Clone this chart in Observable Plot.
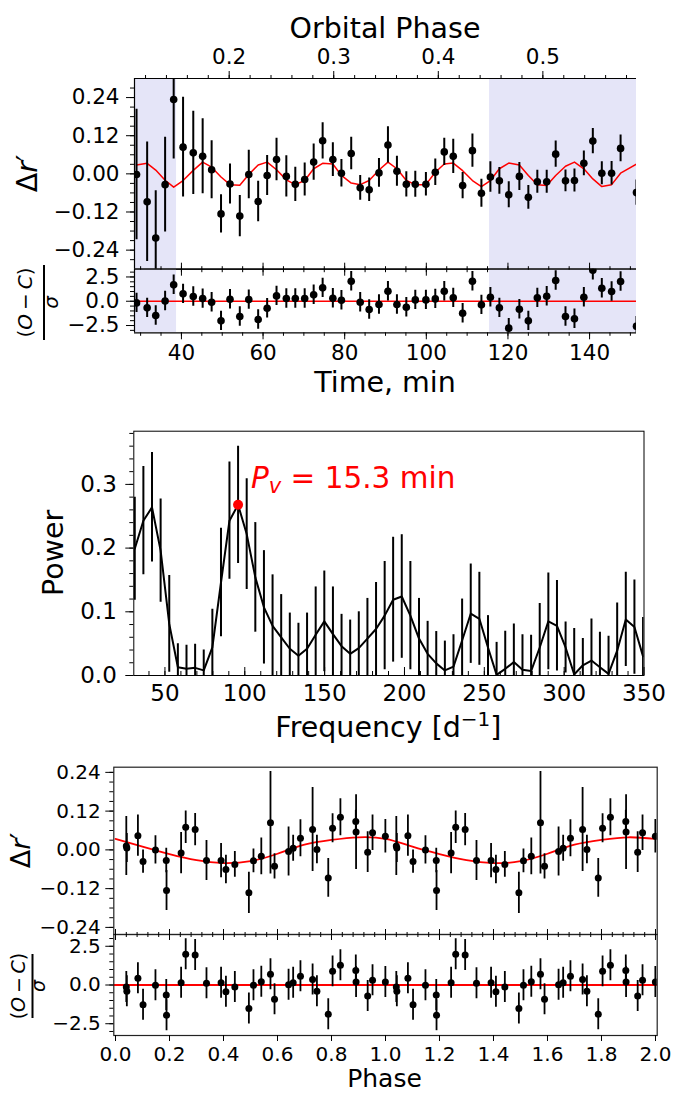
<!DOCTYPE html>
<html><head><meta charset="utf-8">
<script src="https://cdn.jsdelivr.net/npm/d3@7"></script>
<script src="https://cdn.jsdelivr.net/npm/@observablehq/plot@0.6"></script>
<style>
html,body{margin:0;padding:0;background:#fff;}
#chart{position:relative;width:673px;height:1093px;overflow:hidden;background:#fff;}
#chart svg{position:absolute;left:0;top:0;}
</style></head><body><div id="chart"></div>
<script>
// ---------- Light curve (time domain) ----------
const lcTime = [29.0, 31.6, 33.7, 36.0, 38.1, 40.4, 42.9, 45.2, 47.4, 49.7, 51.9, 54.3, 56.5, 58.8, 61.0, 63.3, 65.7, 67.9, 70.2, 72.4, 74.6, 77.1, 79.2, 81.6, 83.8, 86.0, 88.4, 90.6, 92.8, 95.1, 97.3, 99.9, 102.2, 104.4, 106.6, 108.9, 111.3, 113.5, 115.7, 117.9, 120.2, 122.8, 125.0, 127.2, 129.5, 131.7, 134.1, 136.3, 138.6, 140.8, 143.0, 145.4, 147.6, 151.5];
const lcMag = [-0.002, -0.088, -0.202, -0.034, 0.234, 0.084, 0.066, 0.055, 0.013, -0.126, -0.032, -0.133, -0.002, -0.087, -0.005, 0.045, -0.008, -0.033, -0.018, 0.037, 0.104, 0.045, 0.002, 0.064, -0.044, -0.050, 0.003, 0.091, 0.008, -0.033, -0.033, -0.033, 0.005, 0.069, 0.055, -0.037, 0.073, -0.061, -0.010, -0.022, -0.066, -0.008, -0.074, -0.025, -0.025, 0.062, -0.022, -0.021, 0.033, 0.103, 0.002, 0.002, 0.080, -0.059];
const lcErr = [0.205, 0.188, 0.149, 0.149, 0.187, 0.157, 0.131, 0.118, 0.091, 0.060, 0.063, 0.065, 0.076, 0.064, 0.063, 0.067, 0.065, 0.054, 0.052, 0.057, 0.057, 0.053, 0.043, 0.051, 0.039, 0.037, 0.045, 0.057, 0.047, 0.040, 0.041, 0.037, 0.042, 0.043, 0.054, 0.041, 0.052, 0.044, 0.048, 0.042, 0.041, 0.044, 0.037, 0.036, 0.036, 0.041, 0.034, 0.036, 0.039, 0.040, 0.036, 0.037, 0.042, 0.040];
const lcModel = [0.028, 0.033, 0.012, -0.020, -0.042, -0.021, 0.011, 0.037, 0.021, -0.010, -0.034, -0.036, -0.002, 0.028, 0.037, 0.013, -0.019, -0.034, -0.021, 0.016, 0.033, 0.031, -0.005, -0.029, -0.034, -0.021, 0.012, 0.037, 0.016, -0.021, -0.034, -0.034, 0.005, 0.031, 0.034, 0.010, -0.021, -0.040, -0.021, 0.016, 0.034, 0.028, -0.005, -0.034, -0.037, -0.005, 0.024, 0.037, 0.016, -0.016, -0.040, -0.034, 0.002, 0.031];
const lcResid = [-0.17, -0.68, -1.47, 0.03, 1.69, 0.76, 0.48, 0.27, -0.10, -2.02, 0.21, -1.57, 0.17, -1.88, -0.72, 0.55, 0.28, 0.28, 0.28, 0.66, 1.38, 0.30, 0.10, 2.06, -0.10, -0.85, -0.34, 1.03, -0.34, -0.62, 0.14, 0.14, 0.24, 1.03, 0.35, -1.23, 2.06, -0.37, 0.41, -0.68, -2.77, -0.82, -2.02, 0.35, 0.51, 2.13, -1.57, -1.81, 0.41, 3.20, 1.34, 1.00, 2.03, -2.57];
const shadeStart = [28.5, 115.5];
const shadeEnd = [38.8, 151.5];
// orbital phase axis (top): phase 0.2 at 51.7 min, one orbit = 256.2 min
const phaseRefPhase = 0.2, phaseRefTime = 51.7, orbitalPeriodMin = 256.2;
const phaseTicks = [0.2, 0.3, 0.4, 0.5];
const timeTicks = [40, 60, 80, 100, 120, 140];

// ---------- Periodogram ----------
const freq = [31.1, 36.5, 41.9, 47.3, 52.7, 58.1, 63.5, 68.9, 74.3, 79.7, 85.1, 90.4, 95.8, 101.2, 106.6, 112.0, 117.4, 122.8, 128.2, 133.6, 139.0, 144.4, 149.8, 155.2, 160.6, 166.0, 171.4, 176.8, 182.2, 187.6, 192.9, 198.3, 203.7, 209.1, 214.5, 219.9, 225.3, 230.7, 236.1, 241.5, 246.9, 252.3, 257.7, 263.1, 268.5, 273.9, 279.3, 284.7, 290.1, 295.5, 300.9, 306.3, 311.7, 317.1, 322.4, 327.8, 333.2, 338.6, 344.0, 349.4];
const power = [0.199, 0.243, 0.264, 0.196, 0.081, 0.013, 0.0105, 0.012, 0.008, 0.044, 0.146, 0.243, 0.268, 0.222, 0.154, 0.107, 0.078, 0.060, 0.042, 0.031, 0.042, 0.064, 0.085, 0.065, 0.046, 0.034, 0.043, 0.058, 0.073, 0.094, 0.119, 0.124, 0.094, 0.058, 0.034, 0.019, 0.008, 0.014, 0.055, 0.097, 0.089, 0.044, 0.001, 0.0105, 0.021, 0.009, 0.007, 0.044, 0.085, 0.078, 0.044, 0.0016, 0.016, 0.0235, 0.013, 0.0026, 0.039, 0.088, 0.076, 0.030];
const powerErr = [0.081, 0.085, 0.086, 0.081, 0.076, 0.037, 0.037, 0.037, 0.032, 0.060, 0.085, 0.092, 0.092, 0.087, 0.086, 0.089, 0.080, 0.067, 0.056, 0.051, 0.056, 0.075, 0.079, 0.074, 0.050, 0.053, 0.057, 0.063, 0.073, 0.085, 0.098, 0.097, 0.085, 0.063, 0.051, 0.050, 0.046, 0.050, 0.065, 0.078, 0.073, 0.050, 0.051, 0.059, 0.060, 0.055, 0.056, 0.069, 0.076, 0.071, 0.040, 0.072, 0.042, 0.065, 0.055, 0.059, 0.075, 0.074, 0.074, 0.061];
const peakFreq = [95.8], peakPower = [0.268];
const peakLabel = {freq: 104.2, power: 0.2936, prefix: "P", sub: "v", rest: " = 15.3 min"};
const freqTicks = [50, 100, 150, 200, 250, 300, 350];
const powerTicks = [0.0, 0.1, 0.2, 0.3];

// ---------- Phase-folded light curve (one cycle, drawn twice) ----------
const phPhase = [0.040, 0.042, 0.083, 0.102, 0.148, 0.188, 0.189, 0.243, 0.260, 0.295, 0.337, 0.391, 0.409, 0.442, 0.494, 0.511, 0.540, 0.574, 0.589, 0.641, 0.658, 0.685, 0.730, 0.746, 0.788, 0.804, 0.833, 0.890, 0.891, 0.934, 0.952, 0.9995];
const phMag = [0.012, 0.006, 0.044, -0.036, 0.000, -0.033, -0.126, -0.010, 0.070, 0.063, -0.033, -0.033, -0.061, -0.045, -0.133, -0.034, -0.020, 0.084, -0.051, -0.005, 0.005, 0.036, 0.063, 0.001, -0.087, 0.067, 0.101, 0.088, 0.055, -0.007, 0.053, 0.042];
const phErr = [0.091, 0.045, 0.064, 0.036, 0.044, 0.038, 0.062, 0.064, 0.050, 0.050, 0.062, 0.053, 0.044, 0.040, 0.064, 0.037, 0.057, 0.159, 0.039, 0.076, 0.040, 0.057, 0.130, 0.044, 0.060, 0.045, 0.057, 0.035, 0.116, 0.063, 0.055, 0.052];
const phResid = [-0.13, -0.41, 0.43, -1.27, -0.02, -0.64, -1.95, 0.15, 1.98, 1.93, 0.11, 0.15, -0.43, -0.13, -1.52, -0.02, 0.21, 0.69, -0.92, 0.02, 0.15, 0.56, 0.36, -0.41, -1.89, 0.88, 1.27, 0.94, 0.19, -0.71, 0.30, 0.19];
const modelPhase = [0.0, 0.1, 0.2, 0.3, 0.4, 0.5, 0.6, 0.7, 0.8, 0.9, 1.0];
const modelMag = [0.034, 0.010, -0.013, -0.032, -0.041, -0.035, -0.012, 0.016, 0.031, 0.039, 0.034];
const magTicks = [-0.24, -0.12, 0.0, 0.12, 0.24];
const residTicks = [-2.5, 0.0, 2.5];
const phaseAxisTicks = [0.0, 0.2, 0.4, 0.6, 0.8, 1.0, 1.2, 1.4, 1.6, 1.8, 2.0];

// ---------- layout ----------
const W = 673, H = 1093;
const FONT = "DejaVu Sans";
const shadeColor = "#e5e5f8";
const G = {
  p1: {left: 134, right: 636, top: 78, bottom: 268.7, x: [28.5, 151.5], y: [-0.3, 0.3]},
  r1: {top: 268.7, bottom: 332.3, y: [-3.25, 3.3]},
  pg: {left: 133.3, right: 643.5, top: 430.7, bottom: 675, x: [30.5, 350], y: [0, 0.3835]},
  p4: {left: 113.3, right: 656.7, top: 766.7, bottom: 934, x: [-0.0063, 2.0063], y: [-0.262, 0.256]},
  r5: {top: 934, bottom: 1035, y: [-3.26, 3.26]}
};
const minus = s => s.replace("-", "\u2212");
const fmt2 = d => minus(d.toFixed(2));
const fmt1 = d => minus(d.toFixed(1));
const blank = () => "";
const toTime = p => phaseRefTime + (p - phaseRefPhase) * orbitalPeriodMin;
const toPhase = t => (t - phaseRefTime) / orbitalPeriodMin + phaseRefPhase;
const rng = (a, b, s) => d3.range(Math.round((b - a) / s) + 1).map(i => +(a + i * s).toFixed(6));

const lc = lcTime.map((t, i) => ({t, v: lcMag[i], e: lcErr[i], m: lcModel[i], r: lcResid[i]}));
const shade = shadeStart.map((s, i) => ({start: s, end: shadeEnd[i]}));
const pg = freq.map((f, i) => ({f, p: power[i], e: powerErr[i]}));
const ph = [];
for (const k of [0, 1]) phPhase.forEach((p, i) => ph.push({p: p + k, v: phMag[i], e: phErr[i], r: phResid[i]}));
const model = [];
for (const k of [0, 1]) modelPhase.forEach((p, i) => { if (!(k === 1 && i === 0)) model.push({p: p + k, v: modelMag[i]}); });

function panel(g, x, y, fontSize, marks) {
  const svg = Plot.plot({
    width: W, height: H,
    marginTop: g.top, marginBottom: H - g.bottom, marginLeft: g.left, marginRight: W - g.right,
    x: {domain: x}, y: {domain: y},
    style: {background: "transparent", overflow: "visible", fontFamily: FONT, fontSize: fontSize + "px", color: "black"},
    marks
  });
  document.getElementById("chart").appendChild(svg);
  return svg;
}
const spine = (c, dir) => dir === "x" ? Plot.ruleX([c], {stroke: "black", strokeWidth: 1.2}) : Plot.ruleY([c], {stroke: "black", strokeWidth: 1.2});

// ---- panel 1: light curve ----
panel(G.p1, G.p1.x, G.p1.y, 21.5, [
  Plot.rect(shade, {x1: "start", x2: "end", y1: () => G.p1.y[0], y2: () => G.p1.y[1], fill: shadeColor, clip: true}),
  Plot.line(lc, {x: "t", y: "m", stroke: "red", strokeWidth: 1.5, clip: true}),
  Plot.ruleX(lc, {x: "t", y1: d => d.v - d.e, y2: d => d.v + d.e, stroke: "black", strokeWidth: 2, clip: true}),
  Plot.dot(lc, {x: "t", y: "v", r: 3.8, fill: "black", clip: true}),
  spine(G.p1.x[0], "x"), spine(G.p1.y[0], "y"), spine(G.p1.y[1], "y"),
  Plot.axisY(magTicks, {anchor: "left", tickSize: 8, tickPadding: 7, tickFormat: fmt2, label: null}),
  Plot.axisY(rng(-0.27, 0.27, 0.03), {anchor: "left", tickSize: 4, tickFormat: blank, label: null}),
  Plot.axisX(phaseTicks.map(toTime), {anchor: "top", tickSize: 8, tickPadding: 7, tickFormat: t => toPhase(t).toFixed(1), label: null}),
  Plot.axisX(rng(0.12, 0.58, 0.02).map(toTime), {anchor: "top", tickSize: 4, tickFormat: blank, label: null}),
  Plot.axisX(timeTicks, {anchor: "bottom", tickSize: 7, tickFormat: blank, label: null}),
  Plot.axisX(rng(30, 150, 5), {anchor: "bottom", tickSize: 3.5, tickFormat: blank, label: null})
]);

// ---- panel 2: residuals vs time ----
const g2 = {left: G.p1.left, right: G.p1.right, top: G.r1.top, bottom: G.r1.bottom};
panel(g2, G.p1.x, G.r1.y, 21.5, [
  Plot.rect(shade, {x1: "start", x2: "end", y1: () => G.r1.y[0], y2: () => G.r1.y[1], fill: shadeColor, clip: true}),
  Plot.ruleY([0], {stroke: "red", strokeWidth: 1.6}),
  Plot.ruleX(lc, {x: "t", y1: d => d.r - 1, y2: d => d.r + 1, stroke: "black", strokeWidth: 2, clip: true}),
  Plot.dot(lc, {x: "t", y: "r", r: 3.8, fill: "black", clip: true}),
  spine(G.p1.x[0], "x"), spine(G.r1.y[0], "y"), spine(G.r1.y[1], "y"),
  Plot.axisY(residTicks, {anchor: "left", tickSize: 8, tickPadding: 7, tickFormat: fmt1, label: null}),
  Plot.axisY(rng(-3, 3, 0.5), {anchor: "left", tickSize: 4, tickFormat: blank, label: null}),
  Plot.axisX(timeTicks, {anchor: "top", tickSize: 7, tickFormat: blank, label: null}),
  Plot.axisX(rng(30, 150, 5), {anchor: "top", tickSize: 3.5, tickFormat: blank, label: null}),
  Plot.axisX(timeTicks, {anchor: "bottom", tickSize: 7, tickPadding: 5, tickFormat: d => String(d), label: null}),
  Plot.axisX(rng(30, 150, 5), {anchor: "bottom", tickSize: 3.5, tickFormat: blank, label: null})
]);

// ---- panel 3: periodogram ----
const pgH = G.pg.bottom - G.pg.top;
const pgPlot = panel(G.pg, G.pg.x, G.pg.y, 23, [
  Plot.ruleX(pg, {x: "f", y1: d => d.p - d.e, y2: d => d.p + d.e, stroke: "black", strokeWidth: 2, clip: true}),
  Plot.line(pg, {x: "f", y: "p", stroke: "black", strokeWidth: 2, clip: true}),
  Plot.dot(peakFreq.map((f, i) => ({f, p: peakPower[i]})), {x: "f", y: "p", r: 5, fill: "red"}),
  Plot.frame({stroke: "black", strokeWidth: 1}),
  Plot.tickX(freqTicks, {x: d => d, insetTop: pgH - 8, stroke: "black", strokeWidth: 1}),
  Plot.tickX(rng(40, 340, 10), {x: d => d, insetTop: pgH - 4, stroke: "black", strokeWidth: 1}),
  Plot.axisX(freqTicks, {anchor: "bottom", tickSize: 0, tickPadding: 9, tickFormat: d => String(d), label: null}),
  Plot.axisY(powerTicks, {anchor: "left", tickSize: 8, tickPadding: 9, tickFormat: d => d.toFixed(1), label: null}),
  Plot.axisY(rng(0, 0.38, 0.02), {anchor: "left", tickSize: 4, tickFormat: blank, label: null})
]);

// ---- panel 4: phase folded ----
panel(G.p4, G.p4.x, G.p4.y, 20, [
  Plot.line(model, {x: "p", y: "v", stroke: "red", strokeWidth: 1.8, curve: "natural", clip: true}),
  Plot.ruleX(ph, {x: "p", y1: d => d.v - d.e, y2: d => d.v + d.e, stroke: "black", strokeWidth: 1.8, clip: true}),
  Plot.dot(ph, {x: "p", y: "v", r: 3.5, fill: "black", clip: true}),
  Plot.frame({stroke: "#222", strokeWidth: 1.2}),
  Plot.axisY(magTicks, {anchor: "left", tickSize: 8, tickPadding: 5, tickFormat: fmt2, label: null}),
  Plot.axisY(rng(-0.24, 0.24, 0.03), {anchor: "left", tickSize: 4, tickFormat: blank, label: null}),
  Plot.axisX(phaseAxisTicks, {anchor: "bottom", tickSize: 6, tickFormat: blank, label: null}),
  Plot.axisX(rng(0, 2, 0.04), {anchor: "bottom", tickSize: 3, tickFormat: blank, label: null})
]);

// ---- panel 5: phase residuals ----
const g5 = {left: G.p4.left, right: G.p4.right, top: G.r5.top, bottom: G.r5.bottom};
const p5 = panel(g5, G.p4.x, G.r5.y, 20, [
  Plot.ruleY([0], {stroke: "red", strokeWidth: 1.8}),
  Plot.ruleX(ph, {x: "p", y1: d => d.r - 1, y2: d => d.r + 1, stroke: "black", strokeWidth: 1.8, clip: true}),
  Plot.dot(ph, {x: "p", y: "r", r: 3.5, fill: "black", clip: true}),
  Plot.frame({stroke: "#222", strokeWidth: 1.2}),
  Plot.axisY(residTicks, {anchor: "left", tickSize: 8, tickPadding: 5, tickFormat: fmt1, label: null}),
  Plot.axisY(rng(-3, 3, 0.5), {anchor: "left", tickSize: 4, tickFormat: blank, label: null}),
  Plot.axisX(phaseAxisTicks, {anchor: "top", tickSize: 6, tickFormat: blank, label: null}),
  Plot.axisX(rng(0, 2, 0.04), {anchor: "top", tickSize: 3, tickFormat: blank, label: null}),
  Plot.axisX(phaseAxisTicks, {anchor: "bottom", tickSize: 6, tickPadding: 5, tickFormat: d => d.toFixed(1), label: null})
]);
// the lower axes' box hides the bottom of the upper panel's last tick label, as in the original figure
d3.select(p5).insert("rect", ":first-child")
  .attr("x", 0).attr("y", G.r5.top).attr("width", G.p4.left - 9).attr("height", 8).attr("fill", "white");

// ---------- overlay labels ----------
const ov = d3.select("#chart").append("svg").attr("width", W).attr("height", H)
  .style("overflow", "visible").attr("font-family", FONT);
function label(x, y, size, parts, {rotate = 0, anchor = "middle", fill = "black"} = {}) {
  const t = ov.append("text").attr("transform", `translate(${x},${y}) rotate(${rotate})`)
    .attr("font-size", size).attr("text-anchor", anchor).attr("fill", fill);
  for (const p of parts) {
    const s = t.append("tspan").text(p.text);
    if (p.italic) s.attr("font-style", "italic");
    if (p.dy) s.attr("dy", p.dy);
    if (p.size) s.attr("font-size", p.size);
  }
  return t;
}
function fraction(xNum, xBar, xDen, yc, size, barLen) {
  label(xNum, yc, size, [{text: "("}, {text: "O", italic: true}, {text: "\u2009\u2212\u2009"}, {text: "C", italic: true}, {text: ")"}], {rotate: -90});
  ov.append("line").attr("x1", xBar).attr("x2", xBar).attr("y1", yc - barLen / 2).attr("y2", yc + barLen / 2)
    .attr("stroke", "black").attr("stroke-width", 2);
  label(xDen, yc, size, [{text: "\u03c3", italic: true}], {rotate: -90});
}
const deltaR = [{text: "\u0394"}, {text: "r", italic: true}, {text: "\u2032"}];
const c1y = (G.p1.top + G.p1.bottom) / 2, c2y = (G.r1.top + G.r1.bottom) / 2;
const c3y = (G.pg.top + G.pg.bottom) / 2, c4y = (G.p4.top + G.p4.bottom) / 2, c5y = (G.r5.top + G.r5.bottom) / 2;
const cx1 = (G.p1.left + G.p1.right) / 2, cx3 = (G.pg.left + G.pg.right) / 2, cx4 = (G.p4.left + G.p4.right) / 2;

label(cx1, 38, 28.5, [{text: "Orbital Phase"}]);
label(37, c1y, 28.5, deltaR, {rotate: -90});
fraction(31.5, 44, 58, c2y + 2, 20, 75);
label(cx1, 392, 28.5, [{text: "Time, min"}]);
label(63, c3y, 28.5, [{text: "Power"}], {rotate: -90});
label(cx3, 737, 28.5, [{text: "Frequency [d"}, {text: "\u22121", size: 20, dy: -11}, {text: "]", dy: 11}]);
const sx = pgPlot.scale("x"), sy = pgPlot.scale("y");
label(sx.apply(peakLabel.freq), sy.apply(peakLabel.power), 29.5,
  [{text: peakLabel.prefix, italic: true}, {text: peakLabel.sub, italic: true, size: 21, dy: 5}, {text: peakLabel.rest, dy: -5}],
  {anchor: "start", fill: "red"});
label(30, c4y, 27, deltaR, {rotate: -90});
fraction(24.5, 32.5, 45, c5y + 1.5, 19, 64);
label(cx4 - 0.5, 1087, 25, [{text: "Phase"}]);
</script></body></html>
